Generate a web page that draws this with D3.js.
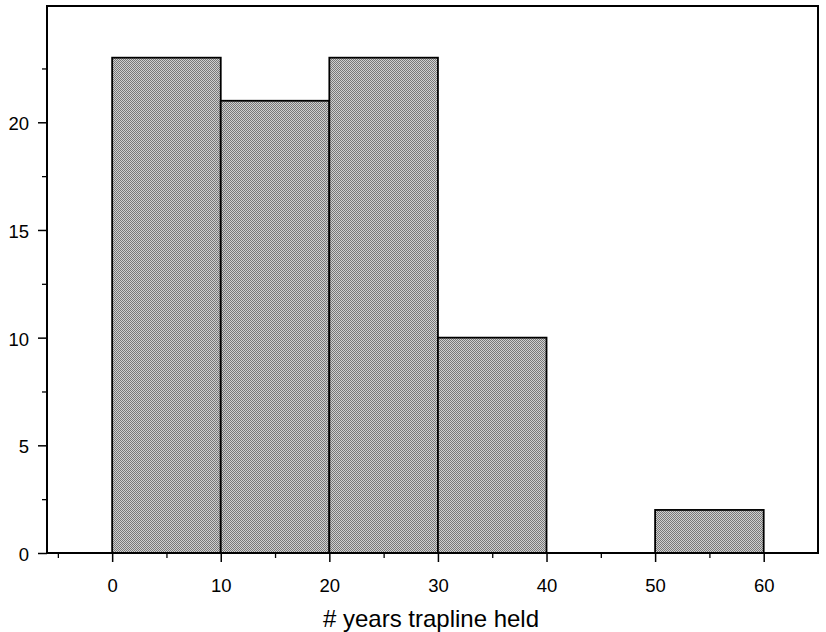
<!DOCTYPE html>
<html>
<head>
<meta charset="utf-8">
<script src="https://cdn.jsdelivr.net/npm/d3@7"></script>
<style>
  body { margin: 0; background: #fff; }
  text { font-family: "Liberation Sans", Arial, sans-serif; fill: #000; }
</style>
</head>
<body>
<div id="chart"></div>
<script>
// histogram bins (years trapline held) and counts
var binStarts = [0, 10, 20, 30, 40, 50];
var binWidth = 10;
var counts = [23, 21, 23, 10, 0, 2];
var xTicks = [0, 10, 20, 30, 40, 50, 60];
var xMinor = [-5, 5, 15, 25, 35, 45, 55];
var yTicks = [0, 5, 10, 15, 20];
var yMinor = [2.5, 7.5, 12.5, 17.5, 22.5];
var xTitle = "# years trapline held";

var width = 826, height = 632;
var margin = { top: 6, right: 8, bottom: 79, left: 47 };

var svg = d3.select("#chart").append("svg")
    .attr("width", width)
    .attr("height", height);

// dithered grey fill like the scanned print
var defs = svg.append("defs");
var pat = defs.append("pattern")
    .attr("id", "dither")
    .attr("patternUnits", "userSpaceOnUse")
    .attr("width", 2).attr("height", 2);
pat.append("rect").attr("width", 2).attr("height", 2).attr("fill", "#d0d0d0");
pat.append("rect").attr("width", 1).attr("height", 1).attr("fill", "#787878");
pat.append("rect").attr("x", 1).attr("y", 1).attr("width", 1).attr("height", 1).attr("fill", "#787878");

var x = d3.scaleLinear()
    .domain([-6, 65])
    .range([margin.left, width - margin.right]);

var y = d3.scaleLinear()
    .domain([0, 25.4])
    .range([height - margin.bottom, margin.top]);

var bars = binStarts.map(function (s, i) { return { x0: s, x1: s + binWidth, n: counts[i] }; });

svg.selectAll(".bar")
    .data(bars.filter(function (d) { return d.n > 0; }))
    .enter().append("rect")
    .attr("class", "bar")
    .attr("x", function (d) { return x(d.x0); })
    .attr("width", function (d) { return x(d.x1) - x(d.x0); })
    .attr("y", function (d) { return y(d.n); })
    .attr("height", function (d) { return y(0) - y(d.n); })
    .attr("fill", "url(#dither)")
    .attr("stroke", "#000")
    .attr("stroke-width", 1.8);

// frame
svg.append("rect")
    .attr("x", x(-6)).attr("y", y(25.4))
    .attr("width", x(65) - x(-6))
    .attr("height", y(0) - y(25.4))
    .attr("fill", "none")
    .attr("stroke", "#000")
    .attr("stroke-width", 2);

// x axis
var xAxis = svg.append("g")
    .attr("transform", "translate(0," + y(0) + ")")
    .call(d3.axisBottom(x).tickValues(xTicks).tickSize(9).tickPadding(17).tickFormat(d3.format("d")));
xAxis.select(".domain").remove();
xAxis.selectAll("line").attr("stroke-width", 1.5);
xAxis.selectAll("text").attr("font-size", 18.5).style("font-family", "'Liberation Sans', Arial, sans-serif");

svg.append("g")
    .attr("transform", "translate(0," + y(0) + ")")
    .call(d3.axisBottom(x).tickValues(xMinor).tickSize(5).tickFormat(""))
    .call(function (g) { g.select(".domain").remove(); g.selectAll("line").attr("stroke-width", 1.3); });

// y axis
var yAxis = svg.append("g")
    .attr("transform", "translate(" + x(-6) + ",0)")
    .call(d3.axisLeft(y).tickValues(yTicks).tickSize(9).tickPadding(9).tickFormat(d3.format("d")));
yAxis.select(".domain").remove();
yAxis.selectAll("line").attr("stroke-width", 1.5);
yAxis.selectAll("text").attr("font-size", 18.5).attr("dy", "0.4em").style("font-family", "'Liberation Sans', Arial, sans-serif");

svg.append("g")
    .attr("transform", "translate(" + x(-6) + ",0)")
    .call(d3.axisLeft(y).tickValues(yMinor).tickSize(5).tickFormat(""))
    .call(function (g) { g.select(".domain").remove(); g.selectAll("line").attr("stroke-width", 1.3); });

// axis title
svg.append("text")
    .attr("x", (322 + 540) / 2)
    .attr("y", 627)
    .attr("text-anchor", "middle")
    .attr("font-size", 24)
    .text(xTitle);
</script>
</body>
</html>
